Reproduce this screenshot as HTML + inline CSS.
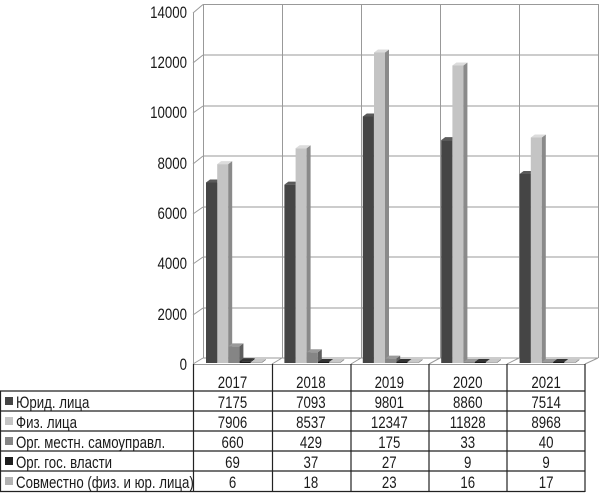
<!DOCTYPE html>
<html><head><meta charset="utf-8"><style>
html,body{margin:0;padding:0;background:#fff}
svg{display:block}
text{font-family:"Liberation Sans",sans-serif;font-size:17px;fill:#1a1a1a}
</style></head><body>
<svg width="600" height="493" viewBox="0 0 600 493" xmlns="http://www.w3.org/2000/svg">
<g stroke="#999" stroke-width="1" fill="none">
<line x1="203.5" y1="4" x2="203.5" y2="358"/>
<line x1="598.5" y1="4" x2="598.5" y2="358"/>
<line x1="282.5" y1="4" x2="282.5" y2="358"/>
<line x1="361.5" y1="4" x2="361.5" y2="358"/>
<line x1="440.5" y1="4" x2="440.5" y2="358"/>
<line x1="519.5" y1="4" x2="519.5" y2="358"/>
<line x1="203" y1="4.5" x2="598" y2="4.5"/>
<line x1="203" y1="55" x2="598" y2="55"/>
<line x1="203" y1="106" x2="598" y2="106"/>
<line x1="203" y1="156" x2="598" y2="156"/>
<line x1="203" y1="207" x2="598" y2="207"/>
<line x1="203" y1="257" x2="598" y2="257"/>
<line x1="203" y1="308" x2="598" y2="308"/>
<line x1="203" y1="358" x2="598" y2="358"/>
<line x1="193.5" y1="13" x2="193.5" y2="364"/>
<line x1="193" y1="13" x2="203" y2="4.5"/>
<line x1="193" y1="63" x2="203" y2="55"/>
<line x1="193" y1="113" x2="203" y2="106"/>
<line x1="193" y1="164" x2="203" y2="156"/>
<line x1="193" y1="214" x2="203" y2="207"/>
<line x1="193" y1="264" x2="203" y2="257"/>
<line x1="193" y1="315" x2="203" y2="308"/>
<line x1="193" y1="364" x2="203" y2="358"/>
<line x1="193" y1="364.5" x2="585" y2="364.5"/>
<line x1="585" y1="364" x2="598" y2="358"/>
<line x1="272" y1="364" x2="282" y2="358"/>
<line x1="351" y1="364" x2="361" y2="358"/>
<line x1="429" y1="364" x2="440" y2="358"/>
<line x1="507" y1="364" x2="519" y2="358"/>
</g>
<g text-anchor="end">
<text transform="translate(187,18) scale(0.78,1)">14000</text>
<text transform="translate(187,68) scale(0.78,1)">12000</text>
<text transform="translate(187,118) scale(0.78,1)">10000</text>
<text transform="translate(187,169) scale(0.78,1)">8000</text>
<text transform="translate(187,219) scale(0.78,1)">6000</text>
<text transform="translate(187,269) scale(0.78,1)">4000</text>
<text transform="translate(187,320) scale(0.78,1)">2000</text>
<text transform="translate(187,370) scale(0.78,1)">0</text>
</g>
<g id="bars"></g>
<g stroke="#222" stroke-width="1.2" fill="none">
<line x1="193.5" y1="364" x2="193.5" y2="492"/>
<line x1="272.5" y1="364" x2="272.5" y2="492"/>
<line x1="351" y1="364" x2="351" y2="492"/>
<line x1="429" y1="364" x2="429" y2="492"/>
<line x1="507" y1="364" x2="507" y2="492"/>
<line x1="585" y1="364" x2="585" y2="492"/>
<line x1="0" y1="391" x2="585" y2="391"/>
<line x1="0" y1="411" x2="585" y2="411"/>
<line x1="0" y1="431" x2="585" y2="431"/>
<line x1="0" y1="451" x2="585" y2="451"/>
<line x1="0" y1="471" x2="585" y2="471"/>
<line x1="0" y1="491.5" x2="585" y2="491.5"/>
<line x1="0.5" y1="391" x2="0.5" y2="492"/>
</g>
<g id="tbl"></g>
<script>
var NS="http://www.w3.org/2000/svg";
var data=[[7175,7093,9801,8860,7514],[7906,8537,12347,11828,8968],[660,429,175,33,40],[69,37,27,9,9],[6,18,23,16,17]];
var cols=[["#454545","#2a2a2a","#5a5a5a"],["#c4c4c4","#8a8a8a","#dcdcdc"],["#858585","#5e5e5e","#9a9a9a"],["#1c1c1c","#0a0a0a","#333"],["#b2b2b2","#808080","#c8c8c8"]];
var names=["Юрид. лица","Физ. лица","Орг. местн. самоуправл.","Орг. гос. власти","Совместно (физ. и юр. лица)"];
var bars=document.getElementById("bars"),tbl=document.getElementById("tbl");
function poly(p,f){var e=document.createElementNS(NS,"polygon");e.setAttribute("points",p);e.setAttribute("fill",f);bars.appendChild(e);}
function txt(x,y,s,a){var e=document.createElementNS(NS,"text");e.setAttribute("transform","translate("+x+","+y+") scale(0.78,1)");if(a)e.setAttribute("text-anchor",a);e.textContent=s;tbl.appendChild(e);}
var k=0.02515,base=363,dx=4,dy=3;
for(var i=0;i<5;i++){var x0=193+78.4*i;
 for(var s=0;s<5;s++){var x=x0+13+11.2*s,w=11,h=Math.max(data[s][i]*k,1),t=base-h;
  poly(x+","+base+" "+(x+w)+","+base+" "+(x+w)+","+t+" "+x+","+t,cols[s][0]);
  poly((x+w)+","+base+" "+(x+w+dx)+","+(base-dy)+" "+(x+w+dx)+","+(t-dy)+" "+(x+w)+","+t,cols[s][1]);
  poly(x+","+t+" "+(x+w)+","+t+" "+(x+w+dx)+","+(t-dy)+" "+(x+dx)+","+(t-dy),cols[s][2]);
 }
 var cx=x0+39.5;
 txt(cx,388,String(2017+i),"middle");
 for(var s=0;s<5;s++)txt(cx,408+20*s,String(data[s][i]),"middle");
}
for(var s=0;s<5;s++){var r=document.createElementNS(NS,"rect");r.setAttribute("x",5);r.setAttribute("y",397+20*s);r.setAttribute("width",8);r.setAttribute("height",8);r.setAttribute("fill",cols[s][0]);tbl.appendChild(r);txt(16,408+20*s,names[s]);}
</script>
</svg>
</body></html>
